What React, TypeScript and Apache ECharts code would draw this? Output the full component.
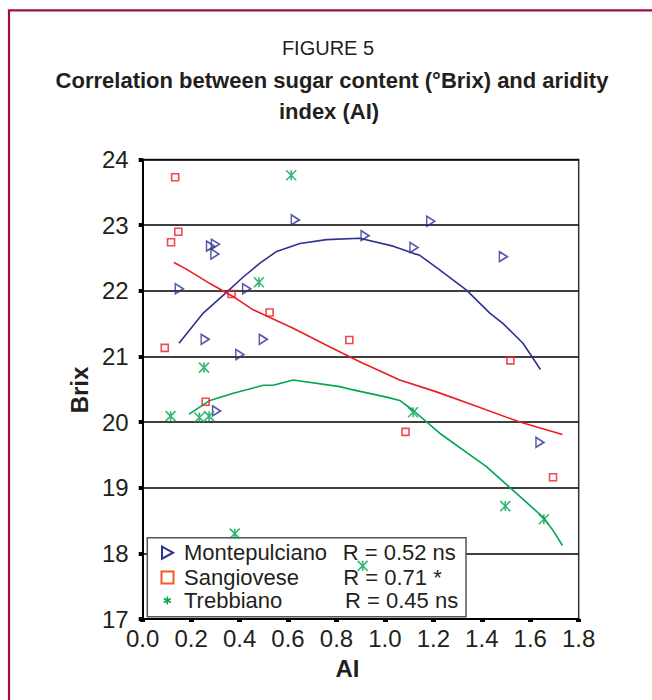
import React, { useEffect, useRef } from "react";
import * as echarts from "echarts";

// ---- data ----
const xTicksMin = 0;
const xTicksMax = 1.8;
const yTicksMin = 17;
const yTicksMax = 24;

const montepulcianoX = [0.63, 0.28, 0.3, 0.298, 0.151, 0.429, 0.258, 0.498, 0.401, 0.305, 0.918, 1.189, 1.12, 1.489, 1.64];
const montepulcianoY = [23.08, 22.68, 22.71, 22.56, 22.03, 22.03, 21.26, 21.26, 21.03, 20.17, 22.84, 23.06, 22.66, 22.52, 19.69];

const sangioveseX = [0.134, 0.147, 0.117, 0.367, 0.524, 0.853, 0.091, 0.26, 1.085, 1.518, 1.694];
const sangioveseY = [23.73, 22.9, 22.74, 21.95, 21.67, 21.25, 21.13, 20.31, 19.85, 20.94, 19.16];

const trebbianoX = [0.613, 0.48, 0.253, 0.115, 0.234, 0.274, 0.38, 1.116, 1.497, 1.656, 0.908];
const trebbianoY = [23.76, 22.13, 20.83, 20.09, 20.07, 20.09, 18.3, 20.15, 18.72, 18.52, 17.81];

const montTrendX = [0.15, 0.25, 0.347, 0.415, 0.484, 0.553, 0.649, 0.759, 0.896, 1.034, 1.117, 1.144, 1.226, 1.337, 1.433, 1.488, 1.57, 1.642];
const montTrendY = [21.2, 21.66, 21.98, 22.21, 22.42, 22.6, 22.72, 22.78, 22.8, 22.68, 22.57, 22.54, 22.32, 22.01, 21.66, 21.5, 21.2, 20.8];

const sangTrendX = [0.129, 0.18, 0.278, 0.374, 0.456, 0.621, 0.759, 0.896, 1.061, 1.213, 1.364, 1.557, 1.733];
const sangTrendY = [22.43, 22.33, 22.11, 21.91, 21.71, 21.43, 21.17, 20.92, 20.64, 20.46, 20.26, 20.0, 19.81];

const trebTrendX = [0.191, 0.278, 0.374, 0.498, 0.539, 0.621, 0.814, 0.869, 1.007, 1.061, 1.116, 1.226, 1.419, 1.529, 1.653, 1.694, 1.733];
const trebTrendY = [20.12, 20.33, 20.44, 20.56, 20.56, 20.64, 20.54, 20.49, 20.38, 20.33, 20.18, 19.83, 19.32, 18.96, 18.55, 18.35, 18.12];

const legendNames = ["Montepulciano", "Sangiovese", "Trebbiano"];
const legendStats = ["R = 0.52 ns", "R = 0.71 *", "R = 0.45 ns"];

const titleLine1 = "FIGURE 5";
const titleLine2 = "Correlation between sugar content (°Brix) and aridity";
const titleLine3 = "index (AI)";
const yName = "Brix";
const xName = "AI";

// ---- styles ----
const FONT = "'Liberation Sans', Arial, sans-serif";
const TEXT = "#231f20";
const BLUE = "#2e3192";
const RED = "#ed1c24";
const GREEN = "#00a651";
const MAROON = "#9b1046";

const zip = (xs: number[], ys: number[]) => xs.map((x, i) => [x, ys[i]]);

const TRI = "path://M0,0L8,5L0,10Z";
const STAR = "path://M5,0L5,10M0,0L10,10M10,0L0,10";

export default function App() {
  const ref = useRef<HTMLDivElement>(null);

  useEffect(() => {
    if (!ref.current) return;
    const chart = echarts.init(ref.current, undefined, { renderer: "svg" });

    const rowY = [552.7, 577.5, 600.5];
    const statX = [342.7, 343.3, 345];

    const legendEls: any[] = [
      {
        type: "rect",
        z: 1,
        shape: { x: 147.3, y: 537.7, width: 318.7, height: 79 },
        style: { fill: "#fff", stroke: "#555", lineWidth: 1.5 },
      },
      {
        type: "polygon",
        z: 3,
        shape: { points: [[162, rowY[0] - 6], [173, rowY[0]], [162, rowY[0] + 6]] },
        style: { fill: "none", stroke: BLUE, lineWidth: 2 },
      },
      {
        type: "rect",
        z: 3,
        shape: { x: 161.5, y: rowY[1] - 6, width: 12, height: 12 },
        style: { fill: "none", stroke: "#f15a24", lineWidth: 2 },
      },
      {
        type: "group",
        z: 3,
        children: [
          { type: "line", z: 3, shape: { x1: 167.3, y1: rowY[2] - 4, x2: 167.3, y2: rowY[2] + 4 }, style: { stroke: GREEN, lineWidth: 1.5 } },
          { type: "line", z: 3, shape: { x1: 163.8, y1: rowY[2] - 2, x2: 170.8, y2: rowY[2] + 2 }, style: { stroke: GREEN, lineWidth: 1.5 } },
          { type: "line", z: 3, shape: { x1: 163.8, y1: rowY[2] + 2, x2: 170.8, y2: rowY[2] - 2 }, style: { stroke: GREEN, lineWidth: 1.5 } },
        ],
      },
    ];
    legendNames.forEach((n, i) => {
      legendEls.push({
        type: "text",
        z: 3,
        x: 184,
        y: rowY[i],
        style: { text: n, fill: TEXT, font: `22px ${FONT}`, lineHeight: 20, textAlign: "left", textVerticalAlign: "middle" },
      });
      legendEls.push({
        type: "text",
        z: 3,
        x: statX[i],
        y: rowY[i],
        style: { text: legendStats[i], fill: TEXT, font: `22px ${FONT}`, lineHeight: 20, textAlign: "left", textVerticalAlign: "middle" },
      });
    });

    const option: any = {
      animation: false,
      backgroundColor: "#fff",
      grid: {
        left: 142.7,
        right: 73.3,
        top: 159.5,
        bottom: 81,
        show: true,
        borderColor: "#333",
        borderWidth: 1.5,
        backgroundColor: "transparent",
      },
      xAxis: {
        type: "value",
        min: xTicksMin,
        max: xTicksMax,
        interval: 0.2,
        axisLine: { show: true, onZero: false, lineStyle: { color: "#000", width: 2 } },
        axisTick: { show: true, length: 3, lineStyle: { color: "#000", width: 5 } },
        axisLabel: {
          formatter: (v: number) => v.toFixed(1),
          fontFamily: FONT,
          fontSize: 24,
          color: TEXT,
          margin: 7,
        },
        splitLine: { show: false },
      },
      yAxis: {
        type: "value",
        min: yTicksMin,
        max: yTicksMax,
        interval: 1,
        axisLine: { show: true, onZero: false, lineStyle: { color: "#000", width: 2 } },
        axisTick: { show: true, length: 4, lineStyle: { color: "#000", width: 4 } },
        axisLabel: { fontFamily: FONT, fontSize: 24, color: TEXT, margin: 14 },
        splitLine: { show: true, lineStyle: { color: "#000", width: 1.5 } },
      },
      series: [
        {
          type: "line",
          data: zip(montTrendX, montTrendY),
          showSymbol: false,
          symbol: "none",
          lineStyle: { color: BLUE, width: 1.6 },
          z: 2,
        },
        {
          type: "line",
          data: zip(sangTrendX, sangTrendY),
          showSymbol: false,
          symbol: "none",
          lineStyle: { color: RED, width: 1.6 },
          z: 2,
        },
        {
          type: "line",
          data: zip(trebTrendX, trebTrendY),
          showSymbol: false,
          symbol: "none",
          lineStyle: { color: GREEN, width: 1.6 },
          z: 2,
        },
        {
          type: "scatter",
          name: legendNames[0],
          data: zip(montepulcianoX, montepulcianoY),
          symbol: TRI,
          symbolSize: [8, 10],
          itemStyle: { color: "rgba(0,0,0,0)", borderColor: BLUE, borderWidth: 1.6 },
          z: 4,
        },
        {
          type: "scatter",
          name: legendNames[1],
          data: zip(sangioveseX, sangioveseY),
          symbol: "rect",
          symbolSize: 7,
          itemStyle: { color: "rgba(0,0,0,0)", borderColor: RED, borderWidth: 1.6 },
          z: 4,
        },
        {
          type: "scatter",
          name: legendNames[2],
          data: zip(trebbianoX, trebbianoY),
          symbol: STAR,
          symbolSize: 10,
          itemStyle: { color: "rgba(0,0,0,0)", borderColor: GREEN, borderWidth: 1.6 },
          z: 4,
        },
      ],
      graphic: {
        elements: [
          {
            type: "polyline",
            shape: { points: [[9, 700], [9, 10.3], [652, 10.3]] },
            style: { stroke: MAROON, lineWidth: 2.2, fill: "none" },
          },
          {
            type: "text",
            x: 328,
            y: 48,
            style: { text: titleLine1, fill: TEXT, font: `20px ${FONT}`, textAlign: "center", textVerticalAlign: "middle" },
          },
          {
            type: "text",
            x: 332,
            y: 80,
            style: { text: titleLine2, fill: TEXT, font: `bold 22px ${FONT}`, textAlign: "center", textVerticalAlign: "middle" },
          },
          {
            type: "text",
            x: 329,
            y: 111,
            style: { text: titleLine3, fill: TEXT, font: `bold 22px ${FONT}`, textAlign: "center", textVerticalAlign: "middle" },
          },
          {
            type: "text",
            x: 79,
            y: 390,
            rotation: Math.PI / 2,
            style: { text: yName, fill: TEXT, font: `bold 24px ${FONT}`, textAlign: "center", textVerticalAlign: "middle" },
          },
          {
            type: "text",
            x: 347.5,
            y: 668,
            style: { text: xName, fill: TEXT, font: `bold 24px ${FONT}`, textAlign: "center", textVerticalAlign: "middle" },
          },
          ...legendEls,
        ],
      },
    };

    chart.setOption(option);
    return () => chart.dispose();
  }, []);

  return (
    <div
      ref={ref}
      style={{ position: "absolute", left: 0, top: 0, width: 652, height: 700 }}
    />
  );
}
